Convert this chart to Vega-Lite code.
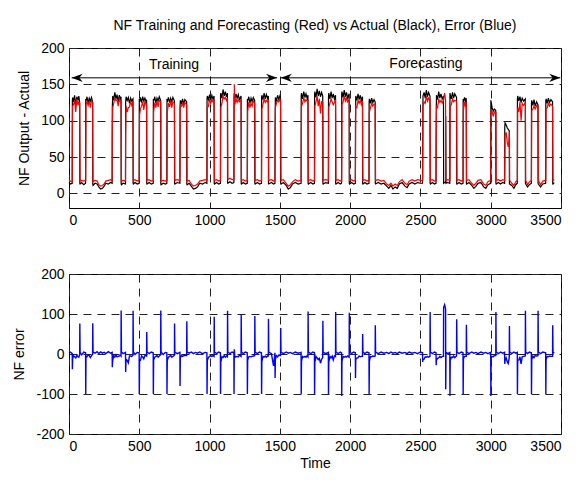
{
"$schema": "https://vega.github.io/schema/vega-lite/v6.json",
"padding": {"left": 12, "top": 18, "right": 5, "bottom": 5},
"config": {
  "font": "Liberation Sans",
  "view": {"stroke": "#000", "strokeWidth": 1},
  "axis": {"domain": false, "ticks": false, "labelFontSize": 14, "labelColor": "#000", "titleFontSize": 14, "titleFontWeight": "normal", "titleColor": "#000", "gridColor": "#222", "gridDash": [8, 6], "gridWidth": 1, "gridOpacity": 1, "labelPadding": 5, "labelFont": "Liberation Sans", "titleFont": "Liberation Sans", "labelExpr": "'' + datum.value"}
},
"datasets": {
"d": [
{"t":0,"a":15,"f":18,"e":3},{"t":10,"a":13,"f":17,"e":5},{"t":23,"a":14,"f":16,"e":1},
{"t":24,"a":128,"f":90,"e":-38},{"t":26,"a":132,"f":120,"e":-12},{"t":32,"a":126,"f":122,"e":-4},{"t":40,"a":135,"f":128,"e":-7},{"t":48,"a":122,"f":112,"e":-10},{"t":56,"a":133,"f":130,"e":-3},{"t":64,"a":128,"f":121,"e":-7},{"t":70,"a":134,"f":126,"e":-8},{"t":76,"a":125,"f":124,"e":-1},
{"t":77,"a":14,"f":90,"e":76},{"t":79,"a":13,"f":17,"e":4},{"t":90,"a":15,"f":18,"e":-2},{"t":105,"a":12,"f":17,"e":5},{"t":118,"a":14,"f":18,"e":3},
{"t":119,"a":130,"f":18,"e":-100},{"t":121,"a":127,"f":122,"e":-5},{"t":128,"a":133,"f":126,"e":-7},{"t":136,"a":124,"f":121,"e":-3},{"t":144,"a":131,"f":127,"e":-4},{"t":152,"a":127,"f":118,"e":-9},{"t":160,"a":132,"f":128,"e":-4},{"t":168,"a":126,"f":125,"e":-1},
{"t":169,"a":13,"f":90,"e":77},{"t":171,"a":11,"f":16,"e":5},{"t":185,"a":14,"f":18,"e":2},{"t":200,"a":13,"f":17,"e":6},{"t":212,"a":9,"f":12,"e":1},{"t":225,"a":6,"f":10,"e":5},{"t":238,"a":7,"f":11,"e":2},{"t":250,"a":10,"f":13,"e":4},{"t":262,"a":14,"f":17,"e":1},{"t":280,"a":13,"f":18,"e":6},{"t":296,"a":15,"f":19,"e":2},{"t":307,"a":14,"f":17,"e":4},
{"t":308,"a":118,"f":85,"e":-33},{"t":311,"a":134,"f":118,"e":-16},{"t":318,"a":128,"f":124,"e":-4},{"t":326,"a":139,"f":131,"e":-8},{"t":334,"a":130,"f":128,"e":-2},{"t":342,"a":136,"f":129,"e":-7},{"t":350,"a":126,"f":120,"e":-6},{"t":358,"a":135,"f":130,"e":-5},{"t":366,"a":129,"f":126,"e":-3},{"t":370,"a":133,"f":128,"e":-5},
{"t":371,"a":13,"f":122,"e":109},{"t":373,"a":12,"f":17,"e":5},{"t":385,"a":14,"f":18,"e":1},{"t":402,"a":13,"f":17,"e":4},
{"t":403,"a":125,"f":80,"e":-45},{"t":406,"a":133,"f":120,"e":-13},{"t":414,"a":128,"f":112,"e":-16},{"t":422,"a":132,"f":118,"e":-22},{"t":430,"a":124,"f":119,"e":-5},{"t":438,"a":131,"f":126,"e":-5},{"t":446,"a":127,"f":121,"e":-6},{"t":455,"a":130,"f":127,"e":-3},
{"t":456,"a":14,"f":122,"e":108},{"t":458,"a":13,"f":18,"e":5},{"t":470,"a":15,"f":19,"e":-1},{"t":485,"a":13,"f":17,"e":4},{"t":499,"a":14,"f":18,"e":3},
{"t":500,"a":130,"f":18,"e":-100},{"t":502,"a":126,"f":108,"e":-18},{"t":508,"a":132,"f":116,"e":-16},{"t":516,"a":125,"f":120,"e":-5},{"t":524,"a":133,"f":126,"e":-7},{"t":532,"a":127,"f":115,"e":-12},{"t":540,"a":131,"f":127,"e":-4},{"t":548,"a":126,"f":122,"e":-4},{"t":552,"a":129,"f":124,"e":-5},
{"t":553,"a":14,"f":80,"e":55},{"t":555,"a":13,"f":18,"e":5},{"t":570,"a":15,"f":19,"e":1},{"t":585,"a":13,"f":17,"e":5},{"t":599,"a":14,"f":18,"e":3},
{"t":600,"a":130,"f":18,"e":-100},{"t":602,"a":127,"f":112,"e":-15},{"t":610,"a":133,"f":125,"e":-8},{"t":618,"a":124,"f":118,"e":-6},{"t":626,"a":131,"f":127,"e":-4},{"t":634,"a":127,"f":119,"e":-8},{"t":642,"a":133,"f":128,"e":-5},{"t":652,"a":128,"f":126,"e":-2},
{"t":653,"a":13,"f":122,"e":109},{"t":655,"a":12,"f":17,"e":5},{"t":670,"a":14,"f":18,"e":-1},{"t":685,"a":13,"f":17,"e":4},{"t":696,"a":14,"f":18,"e":3},
{"t":697,"a":130,"f":18,"e":-100},{"t":699,"a":126,"f":110,"e":-16},{"t":707,"a":132,"f":124,"e":-8},{"t":715,"a":125,"f":119,"e":-6},{"t":723,"a":131,"f":128,"e":-3},{"t":731,"a":126,"f":118,"e":-8},{"t":739,"a":132,"f":126,"e":-6},{"t":750,"a":127,"f":124,"e":-3},
{"t":751,"a":14,"f":90,"e":76},{"t":753,"a":13,"f":18,"e":5},{"t":770,"a":15,"f":19,"e":1},{"t":789,"a":14,"f":18,"e":4},
{"t":790,"a":120,"f":35,"e":-80},{"t":792,"a":128,"f":118,"e":-10},{"t":800,"a":124,"f":120,"e":-4},{"t":808,"a":130,"f":124,"e":-6},{"t":816,"a":122,"f":118,"e":-4},{"t":824,"a":129,"f":125,"e":-4},{"t":837,"a":126,"f":122,"e":-4},
{"t":838,"a":13,"f":95,"e":82},{"t":840,"a":12,"f":17,"e":5},{"t":855,"a":14,"f":18,"e":2},{"t":870,"a":10,"f":13,"e":5},{"t":885,"a":6,"f":10,"e":1},{"t":900,"a":7,"f":11,"e":4},{"t":915,"a":9,"f":13,"e":2},{"t":930,"a":14,"f":17,"e":5},{"t":950,"a":13,"f":18,"e":1},{"t":968,"a":15,"f":19,"e":4},{"t":981,"a":14,"f":18,"e":3},
{"t":982,"a":130,"f":18,"e":-100},{"t":984,"a":134,"f":118,"e":-16},{"t":992,"a":129,"f":120,"e":-9},{"t":1000,"a":136,"f":130,"e":-6},{"t":1008,"a":128,"f":124,"e":-4},{"t":1016,"a":135,"f":129,"e":-6},{"t":1024,"a":130,"f":126,"e":-4},{"t":1032,"a":134,"f":128,"e":-6},
{"t":1033,"a":14,"f":107,"e":93},{"t":1035,"a":13,"f":18,"e":5},{"t":1050,"a":15,"f":19,"e":1},{"t":1065,"a":13,"f":17,"e":5},{"t":1077,"a":14,"f":18,"e":3},
{"t":1078,"a":135,"f":18,"e":-100},{"t":1080,"a":138,"f":118,"e":-20},{"t":1088,"a":131,"f":124,"e":-7},{"t":1096,"a":143,"f":134,"e":-9},{"t":1104,"a":134,"f":130,"e":-4},{"t":1112,"a":140,"f":132,"e":-8},{"t":1120,"a":133,"f":128,"e":-5},{"t":1127,"a":138,"f":131,"e":-7},
{"t":1128,"a":15,"f":123,"e":108},{"t":1130,"a":14,"f":19,"e":5},{"t":1145,"a":16,"f":21,"e":1},{"t":1160,"a":14,"f":19,"e":5},{"t":1173,"a":15,"f":19,"e":3},
{"t":1174,"a":133,"f":19,"e":-100},{"t":1176,"a":138,"f":150,"e":12},{"t":1180,"a":130,"f":122,"e":-8},{"t":1188,"a":137,"f":130,"e":-7},{"t":1196,"a":131,"f":125,"e":-6},{"t":1204,"a":136,"f":129,"e":-7},{"t":1212,"a":129,"f":126,"e":-3},{"t":1224,"a":134,"f":128,"e":-6},
{"t":1225,"a":14,"f":114,"e":100},{"t":1227,"a":13,"f":18,"e":5},{"t":1240,"a":15,"f":19,"e":1},{"t":1255,"a":13,"f":17,"e":5},{"t":1268,"a":14,"f":18,"e":3},
{"t":1269,"a":130,"f":18,"e":-100},{"t":1271,"a":127,"f":112,"e":-15},{"t":1279,"a":133,"f":126,"e":-7},{"t":1287,"a":124,"f":118,"e":-6},{"t":1295,"a":131,"f":124,"e":-7},{"t":1303,"a":126,"f":120,"e":-6},{"t":1311,"a":132,"f":127,"e":-5},{"t":1321,"a":128,"f":124,"e":-4},
{"t":1322,"a":14,"f":109,"e":95},{"t":1324,"a":13,"f":18,"e":5},{"t":1340,"a":15,"f":19,"e":1},{"t":1355,"a":13,"f":17,"e":5},{"t":1369,"a":14,"f":18,"e":3},
{"t":1370,"a":132,"f":18,"e":-100},{"t":1372,"a":135,"f":116,"e":-19},{"t":1380,"a":129,"f":123,"e":-6},{"t":1388,"a":138,"f":130,"e":-8},{"t":1396,"a":130,"f":125,"e":-5},{"t":1404,"a":136,"f":128,"e":-8},{"t":1412,"a":131,"f":126,"e":-5},{"t":1418,"a":134,"f":129,"e":-5},
{"t":1419,"a":14,"f":102,"e":88},{"t":1421,"a":13,"f":18,"e":5},{"t":1440,"a":15,"f":19,"e":1},{"t":1455,"a":13,"f":17,"e":-30},{"t":1465,"a":14,"f":18,"e":3},
{"t":1466,"a":90,"f":30,"e":-60},{"t":1468,"a":132,"f":118,"e":-14},{"t":1476,"a":128,"f":124,"e":-4},{"t":1484,"a":135,"f":128,"e":-7},{"t":1492,"a":129,"f":126,"e":-3},{"t":1500,"a":134,"f":130,"e":-4},{"t":1505,"a":130,"f":126,"e":-4},
{"t":1506,"a":14,"f":79,"e":65},{"t":1508,"a":13,"f":18,"e":5},{"t":1525,"a":15,"f":19,"e":1},{"t":1545,"a":11,"f":14,"e":5},{"t":1560,"a":6,"f":10,"e":2},{"t":1575,"a":8,"f":12,"e":4},{"t":1590,"a":13,"f":16,"e":1},{"t":1610,"a":15,"f":19,"e":5},{"t":1630,"a":13,"f":17,"e":2},{"t":1651,"a":14,"f":18,"e":4},
{"t":1652,"a":134,"f":18,"e":-100},{"t":1654,"a":138,"f":120,"e":-18},{"t":1662,"a":130,"f":124,"e":-6},{"t":1670,"a":140,"f":132,"e":-8},{"t":1678,"a":132,"f":126,"e":-6},{"t":1686,"a":137,"f":129,"e":-8},{"t":1694,"a":131,"f":127,"e":-4},{"t":1700,"a":135,"f":128,"e":-7},
{"t":1701,"a":14,"f":120,"e":106},{"t":1703,"a":13,"f":18,"e":5},{"t":1720,"a":15,"f":19,"e":1},{"t":1735,"a":13,"f":17,"e":5},{"t":1746,"a":14,"f":18,"e":3},
{"t":1747,"a":136,"f":18,"e":-100},{"t":1749,"a":140,"f":120,"e":-20},{"t":1757,"a":132,"f":126,"e":-6},{"t":1765,"a":144,"f":134,"e":-10},{"t":1773,"a":134,"f":120,"e":-14},{"t":1781,"a":141,"f":130,"e":-11},{"t":1789,"a":133,"f":110,"e":-23},{"t":1797,"a":139,"f":126,"e":-13},{"t":1805,"a":134,"f":125,"e":-9},
{"t":1806,"a":14,"f":97,"e":83},{"t":1808,"a":13,"f":18,"e":5},{"t":1825,"a":15,"f":19,"e":1},{"t":1845,"a":14,"f":18,"e":4},
{"t":1846,"a":133,"f":18,"e":-100},{"t":1848,"a":138,"f":118,"e":-20},{"t":1856,"a":130,"f":124,"e":-6},{"t":1864,"a":140,"f":130,"e":-10},{"t":1872,"a":131,"f":126,"e":-5},{"t":1880,"a":137,"f":122,"e":-15},{"t":1888,"a":130,"f":125,"e":-5},{"t":1896,"a":135,"f":129,"e":-6},
{"t":1897,"a":14,"f":119,"e":105},{"t":1899,"a":13,"f":18,"e":5},{"t":1915,"a":15,"f":19,"e":1},{"t":1930,"a":13,"f":17,"e":5},{"t":1939,"a":14,"f":18,"e":3},
{"t":1940,"a":137,"f":16,"e":-105},{"t":1942,"a":140,"f":122,"e":-18},{"t":1950,"a":132,"f":126,"e":-6},{"t":1958,"a":142,"f":134,"e":-8},{"t":1966,"a":133,"f":127,"e":-6},{"t":1974,"a":139,"f":131,"e":-8},{"t":1982,"a":131,"f":126,"e":-5},{"t":1993,"a":137,"f":129,"e":-8},
{"t":1994,"a":14,"f":117,"e":103},{"t":1996,"a":13,"f":18,"e":5},{"t":2010,"a":15,"f":19,"e":1},{"t":2025,"a":13,"f":17,"e":5},{"t":2037,"a":14,"f":18,"e":3},
{"t":2038,"a":100,"f":40,"e":-60},{"t":2040,"a":134,"f":120,"e":-14},{"t":2048,"a":128,"f":118,"e":-10},{"t":2056,"a":137,"f":128,"e":-9},{"t":2064,"a":129,"f":124,"e":-5},{"t":2072,"a":135,"f":128,"e":-7},{"t":2080,"a":128,"f":122,"e":-6},{"t":2088,"a":133,"f":127,"e":-6},
{"t":2089,"a":14,"f":64,"e":50},{"t":2091,"a":13,"f":18,"e":5},{"t":2105,"a":15,"f":19,"e":1},{"t":2120,"a":13,"f":17,"e":5},{"t":2134,"a":14,"f":18,"e":3},
{"t":2135,"a":126,"f":18,"e":-100},{"t":2137,"a":130,"f":112,"e":-18},{"t":2145,"a":124,"f":118,"e":-6},{"t":2153,"a":131,"f":124,"e":-7},{"t":2161,"a":125,"f":120,"e":-5},{"t":2170,"a":129,"f":123,"e":-6},{"t":2178,"a":126,"f":121,"e":-5},
{"t":2179,"a":14,"f":86,"e":72},{"t":2181,"a":13,"f":18,"e":5},{"t":2200,"a":15,"f":19,"e":1},{"t":2220,"a":13,"f":17,"e":5},{"t":2240,"a":14,"f":18,"e":2},{"t":2260,"a":10,"f":13,"e":4},{"t":2275,"a":7,"f":11,"e":1},{"t":2290,"a":11,"f":14,"e":5},{"t":2305,"a":6,"f":10,"e":2},{"t":2320,"a":9,"f":13,"e":4},{"t":2335,"a":7,"f":11,"e":1},{"t":2350,"a":13,"f":16,"e":5},{"t":2370,"a":15,"f":19,"e":2},{"t":2390,"a":10,"f":14,"e":4},{"t":2405,"a":8,"f":12,"e":1},{"t":2420,"a":13,"f":17,"e":5},{"t":2440,"a":15,"f":19,"e":2},{"t":2460,"a":13,"f":17,"e":4},{"t":2480,"a":15,"f":19,"e":1},{"t":2500,"a":14,"f":18,"e":5},{"t":2515,"a":14,"f":18,"e":3},
{"t":2516,"a":40,"f":20,"e":-20},{"t":2518,"a":134,"f":120,"e":-14},{"t":2526,"a":139,"f":126,"e":-13},{"t":2534,"a":131,"f":124,"e":-7},{"t":2542,"a":142,"f":134,"e":-8},{"t":2550,"a":133,"f":127,"e":-6},{"t":2558,"a":139,"f":131,"e":-8},{"t":2568,"a":134,"f":128,"e":-6},
{"t":2569,"a":14,"f":119,"e":105},{"t":2571,"a":13,"f":18,"e":5},{"t":2585,"a":15,"f":19,"e":1},{"t":2600,"a":13,"f":17,"e":5},{"t":2611,"a":14,"f":18,"e":3},
{"t":2612,"a":90,"f":62,"e":-28},{"t":2614,"a":135,"f":120,"e":-15},{"t":2622,"a":129,"f":118,"e":-11},{"t":2630,"a":140,"f":130,"e":-10},{"t":2638,"a":131,"f":125,"e":-6},{"t":2646,"a":137,"f":128,"e":-9},{"t":2655,"a":130,"f":124,"e":-6},{"t":2664,"a":134,"f":128,"e":-6},
{"t":2665,"a":14,"f":130,"e":116},{"t":2672,"a":15,"f":138,"e":123},{"t":2679,"a":16,"f":128,"e":112},{"t":2680,"a":106,"f":18,"e":-88},{"t":2682,"a":14,"f":18,"e":4},{"t":2695,"a":15,"f":19,"e":1},{"t":2709,"a":14,"f":18,"e":4},
{"t":2710,"a":138,"f":18,"e":-105},{"t":2712,"a":136,"f":120,"e":-16},{"t":2720,"a":130,"f":122,"e":-8},{"t":2728,"a":139,"f":130,"e":-9},{"t":2736,"a":131,"f":126,"e":-5},{"t":2744,"a":137,"f":128,"e":-9},{"t":2757,"a":132,"f":127,"e":-5},
{"t":2758,"a":14,"f":101,"e":87},{"t":2760,"a":13,"f":18,"e":5},{"t":2775,"a":15,"f":19,"e":1},{"t":2790,"a":13,"f":17,"e":5},{"t":2803,"a":14,"f":18,"e":3},
{"t":2804,"a":130,"f":18,"e":-100},{"t":2806,"a":126,"f":114,"e":-12},{"t":2814,"a":132,"f":126,"e":-6},{"t":2820,"a":127,"f":121,"e":-6},{"t":2826,"a":131,"f":125,"e":-6},
{"t":2827,"a":14,"f":87,"e":73},{"t":2829,"a":13,"f":18,"e":5},{"t":2845,"a":15,"f":19,"e":1},{"t":2865,"a":11,"f":14,"e":5},{"t":2880,"a":7,"f":11,"e":2},{"t":2895,"a":10,"f":14,"e":4},{"t":2910,"a":14,"f":18,"e":1},{"t":2930,"a":15,"f":19,"e":5},{"t":2950,"a":9,"f":13,"e":2},{"t":2965,"a":7,"f":11,"e":4},{"t":2980,"a":12,"f":16,"e":1},{"t":3000,"a":14,"f":18,"e":4},
{"t":3001,"a":128,"f":18,"e":-105},{"t":3003,"a":126,"f":116,"e":-10},{"t":3010,"a":118,"f":112,"e":-6},{"t":3018,"a":113,"f":106,"e":-7},{"t":3026,"a":116,"f":112,"e":-4},{"t":3036,"a":114,"f":110,"e":-4},
{"t":3037,"a":14,"f":112,"e":105},{"t":3039,"a":13,"f":18,"e":5},{"t":3055,"a":15,"f":19,"e":1},{"t":3070,"a":13,"f":17,"e":5},{"t":3085,"a":15,"f":19,"e":2},{"t":3099,"a":14,"f":18,"e":4},
{"t":3100,"a":92,"f":30,"e":-25},{"t":3102,"a":97,"f":80,"e":-17},{"t":3110,"a":94,"f":84,"e":-10},{"t":3118,"a":90,"f":70,"e":-20},{"t":3125,"a":88,"f":64,"e":-24},{"t":3132,"a":86,"f":78,"e":-8},
{"t":3133,"a":14,"f":84,"e":70},{"t":3135,"a":13,"f":18,"e":5},{"t":3150,"a":11,"f":14,"e":1},{"t":3165,"a":7,"f":11,"e":5},{"t":3178,"a":12,"f":16,"e":2},{"t":3189,"a":14,"f":18,"e":4},
{"t":3190,"a":130,"f":18,"e":-100},{"t":3192,"a":134,"f":118,"e":-16},{"t":3200,"a":127,"f":112,"e":-15},{"t":3208,"a":133,"f":126,"e":-7},{"t":3216,"a":125,"f":100,"e":-25},{"t":3224,"a":131,"f":124,"e":-7},{"t":3234,"a":127,"f":121,"e":-6},{"t":3246,"a":130,"f":125,"e":-5},
{"t":3247,"a":14,"f":122,"e":108},{"t":3249,"a":13,"f":18,"e":5},{"t":3262,"a":9,"f":12,"e":1},{"t":3275,"a":12,"f":16,"e":5},{"t":3289,"a":14,"f":18,"e":3},
{"t":3290,"a":124,"f":18,"e":-100},{"t":3292,"a":128,"f":114,"e":-14},{"t":3300,"a":121,"f":116,"e":-5},{"t":3308,"a":129,"f":120,"e":-9},{"t":3316,"a":120,"f":116,"e":-4},{"t":3326,"a":126,"f":121,"e":-5},{"t":3336,"a":122,"f":118,"e":-4},
{"t":3337,"a":14,"f":122,"e":108},{"t":3339,"a":13,"f":18,"e":5},{"t":3355,"a":9,"f":12,"e":1},{"t":3370,"a":13,"f":17,"e":5},{"t":3391,"a":14,"f":18,"e":3},
{"t":3392,"a":127,"f":18,"e":-100},{"t":3394,"a":130,"f":116,"e":-14},{"t":3402,"a":124,"f":118,"e":-6},{"t":3410,"a":131,"f":124,"e":-7},{"t":3418,"a":125,"f":120,"e":-5},{"t":3428,"a":129,"f":123,"e":-6},{"t":3440,"a":126,"f":120,"e":-6},
{"t":3441,"a":14,"f":86,"e":72},{"t":3443,"a":13,"f":18,"e":5},{"t":3452,"a":15,"f":19,"e":2}
],
"seg": [{"x1": 19, "x2": 1480, "y": 159}, {"x1": 1507, "x2": 3495, "y": 159}],
"heads": [{"x": 19, "y": 159, "dir": "L"}, {"x": 1480, "y": 159, "dir": "R"}, {"x": 1507, "y": 159, "dir": "L"}, {"x": 3495, "y": 159, "dir": "R"}],
"labels": [{"x": 747, "y": 176, "txt": "Training"}, {"x": 2539, "y": 178, "txt": "Forecasting"}]
},
"spacing": 38,
"vconcat": [
{
  "width": 492, "height": 160,
  "title": {"text": "NF Training and Forecasting (Red) vs Actual (Black), Error (Blue)", "fontSize": 14, "fontWeight": "normal", "font": "Liberation Sans", "color": "#000", "offset": 8},
  "layer": [
    {"data": {"name": "d"}, "mark": {"type": "line", "color": "#000", "strokeWidth": 1.2},
     "encoding": {
       "x": {"field": "t", "type": "quantitative", "scale": {"domain": [0, 3500], "nice": false}, "axis": {"values": [0, 500, 1000, 1500, 2000, 2500, 3000, 3500], "title": null}},
       "y": {"field": "a", "type": "quantitative", "scale": {"domain": [-20, 200], "nice": false}, "axis": {"values": [0, 50, 100, 150, 200], "title": "NF Output - Actual", "titlePadding": 9}}}},
    {"data": {"name": "d"}, "mark": {"type": "line", "color": "#f00", "strokeWidth": 1.2},
     "encoding": {
       "x": {"field": "t", "type": "quantitative", "axis": {"values": [0, 500, 1000, 1500, 2000, 2500, 3000, 3500], "title": null}},
       "y": {"field": "f", "type": "quantitative", "axis": {"values": [0, 50, 100, 150, 200], "title": "NF Output - Actual", "titlePadding": 9}}}},
    {"data": {"name": "seg"}, "mark": {"type": "rule", "color": "#000", "strokeWidth": 1},
     "encoding": {
       "x": {"field": "x1", "type": "quantitative", "axis": {"values": [0, 500, 1000, 1500, 2000, 2500, 3000, 3500], "title": null}},
       "x2": {"field": "x2"},
       "y": {"field": "y", "type": "quantitative", "axis": {"values": [0, 50, 100, 150, 200], "title": "NF Output - Actual", "titlePadding": 9}}}},
    {"data": {"name": "heads"}, "mark": {"type": "point", "filled": true, "color": "#000", "opacity": 1, "size": 121},
     "encoding": {
       "x": {"field": "x", "type": "quantitative", "axis": {"values": [0, 500, 1000, 1500, 2000, 2500, 3000, 3500], "title": null}},
       "y": {"field": "y", "type": "quantitative", "axis": {"values": [0, 50, 100, 150, 200], "title": "NF Output - Actual", "titlePadding": 9}},
       "shape": {"field": "dir", "type": "nominal", "scale": {"domain": ["L", "R"], "range": ["M0,0L2,-0.75L1.4,0L2,0.75Z", "M0,0L-2,-0.75L-1.4,0L-2,0.75Z"]}, "legend": null}}},
    {"data": {"name": "labels"}, "mark": {"type": "text", "fontSize": 14, "font": "Liberation Sans", "color": "#000"},
     "encoding": {
       "x": {"field": "x", "type": "quantitative", "axis": {"values": [0, 500, 1000, 1500, 2000, 2500, 3000, 3500], "title": null}},
       "y": {"field": "y", "type": "quantitative", "axis": {"values": [0, 50, 100, 150, 200], "title": "NF Output - Actual", "titlePadding": 9}},
       "text": {"field": "txt"}}}
  ]
},
{
  "width": 492, "height": 160,
  "data": {"name": "d"},
  "mark": {"type": "line", "color": "#00f", "strokeWidth": 1.4},
  "encoding": {
    "x": {"field": "t", "type": "quantitative", "scale": {"domain": [0, 3500], "nice": false}, "axis": {"values": [0, 500, 1000, 1500, 2000, 2500, 3000, 3500], "title": "Time", "titlePadding": 3}},
    "y": {"field": "e", "type": "quantitative", "scale": {"domain": [-200, 200], "nice": false}, "axis": {"values": [-200, -100, 0, 100, 200], "title": "NF error", "titlePadding": 9}}
  }
}
]
}
